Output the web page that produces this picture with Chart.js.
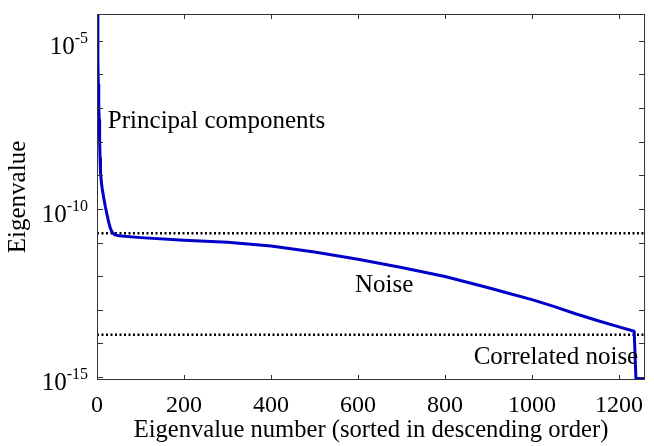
<!DOCTYPE html>
<html lang="en">
<head>
<meta charset="utf-8"/>
<title>Eigenvalues</title>
<script src="https://cdn.jsdelivr.net/npm/chart.js"></script>
<style>
    html, body { margin: 0; padding: 0; background: #fff; }
    #wrap { width: 654px; height: 446px; }
</style>
</head>
<body>
<div id="wrap"><canvas id="c"></canvas></div>
<script>
// eigenvalue spectrum
const eigIndex = [1, 2, 3, 4, 5, 6, 7, 8, 10, 12, 15, 19, 23, 27, 31, 35, 40, 50, 100, 200, 300, 400, 500, 600, 700, 800, 900, 950, 1000, 1050, 1100, 1150, 1200, 1235, 1239, 1260];
const eigValue = [1e-4, 3e-6, 5e-7, 1.3e-7, 4.5e-8, 1.1e-8, 3.2e-9, 1.26e-9, 6.3e-10, 4.0e-10, 2.3e-10, 1.2e-10, 6.8e-11, 4.0e-11, 2.6e-11, 2.0e-11, 1.74e-11, 1.58e-11, 1.4e-11, 1.17e-11, 1.02e-11, 7.9e-12, 5.2e-12, 3.2e-12, 1.8e-12, 9.8e-13, 4.5e-13, 3.0e-13, 2.0e-13, 1.26e-13, 7.6e-14, 4.8e-14, 3.1e-14, 2.3e-14, 9e-16, 9e-16];

// thresholds (dotted lines)
const thresholds = [1.9e-11, 1.8e-14];

const xTicks = [0, 200, 400, 600, 800, 1000, 1200];
const yDecades = [-15, -14, -13, -12, -11, -10, -9, -8, -7, -6, -5];
const yLabelled = [-15, -10, -5];

const notes = [
    { text: 'Principal components', x: 25, y: 2.6e-8 },
    { text: 'Noise', x: 593, y: 3.3e-13 },
    { text: 'Correlated noise', x: 866, y: 2.5e-15 }
];

const FONT = '"Liberation Serif", "Times New Roman", serif';

const frameTicks = {
    id: 'frameTicks',
    afterDraw(chart) {
        const { ctx, chartArea: a, scales } = chart;
        ctx.save();
        ctx.strokeStyle = '#333';
        ctx.lineWidth = 1;
        ctx.strokeRect(a.left + 0.5, a.top + 0.5, a.right - a.left - 1, a.bottom - a.top - 1);
        ctx.beginPath();
        xTicks.forEach(v => {
            const px = Math.round(scales.x.getPixelForValue(v)) + 0.5;
            ctx.moveTo(px, a.bottom); ctx.lineTo(px, a.bottom - 5);
            ctx.moveTo(px, a.top); ctx.lineTo(px, a.top + 5);
        });
        yDecades.forEach(e => {
            const py = Math.round(scales.y.getPixelForValue(Math.pow(10, e))) + 0.5;
            ctx.moveTo(a.left, py); ctx.lineTo(a.left + 6, py);
            ctx.moveTo(a.right, py); ctx.lineTo(a.right - 6, py);
        });
        ctx.stroke();

        ctx.fillStyle = '#000';
        // y tick labels: 10 with a raised exponent
        yLabelled.forEach(e => {
            const py = scales.y.getPixelForValue(Math.pow(10, e));
            ctx.font = '16px ' + FONT;
            ctx.textAlign = 'right';
            ctx.textBaseline = 'alphabetic';
            const sup = String(e);
            const supW = ctx.measureText(sup).width;
            ctx.fillText(sup, a.left - 9, py + 2);
            ctx.font = '25px ' + FONT;
            ctx.fillText('10', a.left - 9 - supW, py + 13);
        });

        ctx.font = '25px ' + FONT;
        ctx.textAlign = 'left';
        ctx.textBaseline = 'alphabetic';
        notes.forEach(n => {
            ctx.fillText(n.text, scales.x.getPixelForValue(n.x), scales.y.getPixelForValue(n.y));
        });
        ctx.restore();
    }
};

new Chart(document.getElementById('c'), {
    type: 'line',
    data: {
        datasets: [
            {
                data: eigIndex.map((x, i) => ({ x: x, y: eigValue[i] })),
                borderColor: '#0000c8',
                borderWidth: 3,
                pointRadius: 0,
                tension: 0,
                borderJoinStyle: 'round',
                fill: false
            },
            ...thresholds.map(t => ({
                data: [{ x: 0, y: t }, { x: 1260, y: t }],
                borderColor: '#000',
                borderWidth: 2.5,
                borderDash: [2, 2.5],
                pointRadius: 0,
                fill: false
            }))
        ]
    },
    options: {
        responsive: true,
        maintainAspectRatio: false,
        animation: false,
        devicePixelRatio: 1,
        layout: { padding: { top: 14, right: 1, left: 0, bottom: 0 } },
        plugins: { legend: { display: false }, tooltip: { enabled: false } },
        scales: {
            x: {
                type: 'linear',
                min: 0,
                max: 1260,
                afterBuildTicks: s => { s.ticks = xTicks.map(v => ({ value: v })); },
                afterFit: s => { s.height = 66; },
                grid: { display: false, drawTicks: false },
                border: { display: false },
                ticks: {
                    color: '#000',
                    font: { family: FONT, size: 24 },
                    padding: 11,
                    maxRotation: 0,
                    autoSkip: false,
                    callback: v => String(v)
                },
                title: {
                    display: true,
                    text: 'Eigenvalue number (sorted in descending order)',
                    color: '#000',
                    font: { family: FONT, size: 24.6 },
                    padding: { top: 0, bottom: 1 }
                }
            },
            y: {
                type: 'logarithmic',
                min: Math.pow(10, -15.09),
                max: Math.pow(10, -4.2),
                afterBuildTicks: s => { s.ticks = yDecades.map(e => ({ value: Math.pow(10, e) })); },
                afterFit: s => { s.width = 97; },
                grid: { display: false, drawTicks: false },
                border: { display: false },
                ticks: { display: false },
                title: {
                    display: true,
                    text: 'Eigenvalue',
                    color: '#000',
                    font: { family: FONT, size: 25 },
                    padding: { top: 3, bottom: 0 }
                }
            }
        }
    },
    plugins: [frameTicks]
});
</script>
</body>
</html>
